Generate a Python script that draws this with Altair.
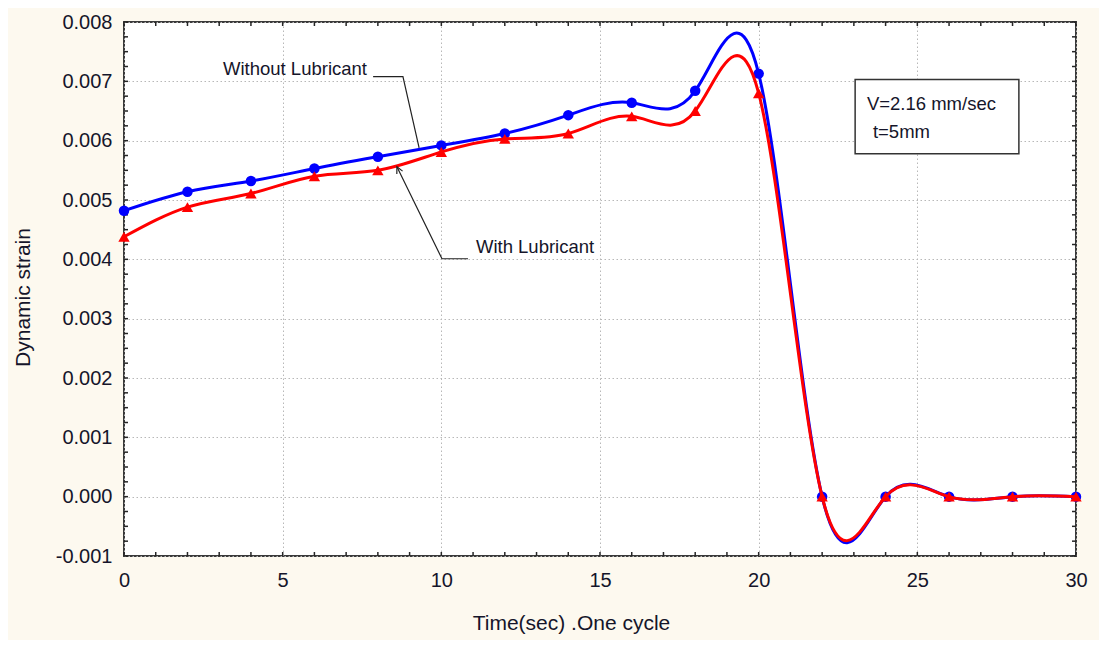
import altair as alt
import pandas as pd

# ---- data ----
time_s = [0, 2, 4, 6, 8, 10, 12, 14, 16, 18, 20, 22, 24, 26, 28, 30]
without_lub = [0.00482, 0.00514, 0.00532, 0.00553, 0.00573, 0.00592, 0.00612, 0.00643,
               0.00664, 0.00684, 0.00713, 0.0, 0.0, 0.0, 0.0, 0.0]
with_lub = [0.00438, 0.00488, 0.00511, 0.00540, 0.00550, 0.00581, 0.00603, 0.00612,
            0.00641, 0.00650, 0.00680, 0.0, 0.0, 0.0, 0.0, 0.0]

x_label_values = [0, 5, 10, 15, 20, 25, 30]
y_label_values = [-0.001, 0.0, 0.001, 0.002, 0.003, 0.004, 0.005, 0.006, 0.007, 0.008]
x_minor_ticks = list(range(0, 31))
y_minor_ticks = [round(-0.001 + 0.00025 * i, 5) for i in range(37)]

# annotations (data coordinates)
ann_text = ["Without Lubricant", "With Lubricant", "V=2.16 mm/sec", "t=5mm"]
ann_x = [3.12, 11.09, 23.41, 23.60]
ann_y = [0.00720, 0.00420, 0.00661, 0.00615]

leader_x = [7.85, 8.79, 9.30, 10.84, 10.02, 8.60]
leader_y = [0.00708, 0.00708, 0.00588, 0.00401, 0.00401, 0.00556]
leader_grp = ["a", "a", "a", "b", "b", "b"]
leader_ord = [0, 1, 2, 0, 1, 2]

arrow_x = [8.60]
arrow_y = [0.00556]

box_x = [23.04]
box_x2 = [28.20]
box_y = [0.00578]
box_y2 = [0.00703]

FONT = "Liberation Sans"
TXT = "#15152a"
W, H = 952, 534

xs = alt.Scale(domain=[0, 30], nice=False, zero=False)
ys = alt.Scale(domain=[-0.001, 0.008], nice=False, zero=False)

df_blue = pd.DataFrame({"t": time_s, "v": without_lub})
df_red = pd.DataFrame({"t": time_s, "v": with_lub})

x_axis = alt.Axis(
    values=x_label_values, title="Time(sec) .One cycle", grid=True, ticks=False, domain=False,
    labelFont=FONT, labelFontSize=20, labelColor=TXT, labelPadding=24, labelBaseline="middle",
    labelFlush=False, labelOverlap=False,
    titleFont=FONT, titleFontSize=21, titleFontWeight="normal", titleColor=TXT,
    titleX=447, titleY=67, titleAlign="center", titleBaseline="middle",
    gridColor="#b8b8b8", gridDash=[1.5, 2.5], gridWidth=1,
)
y_axis = alt.Axis(
    values=y_label_values, title="Dynamic strain", grid=True, ticks=False, domain=False,
    labelExpr="datum.value < 0 ? '-' + format(-datum.value, '.3f') : format(datum.value, '.3f')",
    labelFont=FONT, labelFontSize=20, labelColor=TXT, labelPadding=12,
    labelFlush=False, labelOverlap=False,
    titleFont=FONT, titleFontSize=21, titleFontWeight="normal", titleColor=TXT,
    titleX=-101, titleY=275, titleAngle=270, titleAlign="center", titleBaseline="middle",
    gridColor="#b8b8b8", gridDash=[1.5, 2.5], gridWidth=1,
)


def X(field):
    return alt.X(field, scale=xs, axis=x_axis, title="Time(sec) .One cycle")


def Y(field):
    return alt.Y(field, scale=ys, axis=y_axis, title="Dynamic strain")


blue_line = alt.Chart(df_blue).mark_line(
    interpolate="natural", color="#0000ff", strokeWidth=3
).encode(x=X("t:Q"), y=Y("v:Q"))

blue_pts = alt.Chart(df_blue).mark_point(
    shape="circle", filled=True, size=110, color="#0000ff", opacity=1
).encode(x=X("t:Q"), y=Y("v:Q"))

red_line = alt.Chart(df_red).mark_line(
    interpolate="natural", color="#ff0000", strokeWidth=3
).encode(x=X("t:Q"), y=Y("v:Q"))

red_pts = alt.Chart(df_red).mark_point(
    shape="triangle-up", filled=True, size=130, color="#ff0000", opacity=1
).encode(x=X("t:Q"), y=Y("v:Q"))

# inward tick marks on all four sides
df_xt = pd.DataFrame({"t": x_minor_ticks})
df_yt = pd.DataFrame({"v": y_minor_ticks})
tick_style = dict(color="#262626", strokeWidth=1.5)
xt_bottom = alt.Chart(df_xt).mark_rule(**tick_style).encode(
    x=X("t:Q"), y=alt.value(H), y2=alt.value(H - 4))
xt_top = alt.Chart(df_xt).mark_rule(**tick_style).encode(
    x=X("t:Q"), y=alt.value(0), y2=alt.value(4))
yt_left = alt.Chart(df_yt).mark_rule(**tick_style).encode(
    y=Y("v:Q"), x=alt.value(0), x2=alt.value(4))
yt_right = alt.Chart(df_yt).mark_rule(**tick_style).encode(
    y=Y("v:Q"), x=alt.value(W), x2=alt.value(W - 4))

# annotation box
df_box = pd.DataFrame({"x": box_x, "x2": box_x2, "y": box_y, "y2": box_y2})
box = alt.Chart(df_box).mark_rect(fill="white", stroke="#333333", strokeWidth=1.5).encode(
    x=X("x:Q"), x2="x2:Q", y=Y("y:Q"), y2="y2:Q")

df_ann = pd.DataFrame({"x": ann_x, "y": ann_y, "label": ann_text})
ann = alt.Chart(df_ann).mark_text(
    align="left", baseline="middle", font=FONT, fontSize=18.5, color=TXT
).encode(x=X("x:Q"), y=Y("y:Q"), text="label:N")

df_lead = pd.DataFrame({"x": leader_x, "y": leader_y, "g": leader_grp, "o": leader_ord})
leaders = alt.Chart(df_lead).mark_line(color="#222222", strokeWidth=1.2).encode(
    x=X("x:Q"), y=Y("y:Q"), detail="g:N", order="o:Q")

df_arrow = pd.DataFrame({"x": arrow_x, "y": arrow_y})
arrow = alt.Chart(df_arrow).mark_point(
    shape="M -0.8 1.6 L 0 0 L 0.8 1.6", angle=334, size=64, filled=False,
    stroke="#222222", strokeWidth=1.2, opacity=1
).encode(x=X("x:Q"), y=Y("y:Q"))

chart = alt.layer(
    blue_line, xt_bottom, xt_top, yt_left, yt_right,
    blue_pts, red_line, red_pts, leaders, arrow, box, ann,
).properties(
    width=W, height=H,
    autosize=alt.AutoSizeParams(type="none"),
    padding={"left": 116, "top": 14, "right": 23, "bottom": 84},
    background="#fdf9ef",
).configure_view(
    fill="white", stroke="#3a3a3a", strokeWidth=2,
)

chart.save("out.html", embed_options={"renderer": "svg", "actions": False})
